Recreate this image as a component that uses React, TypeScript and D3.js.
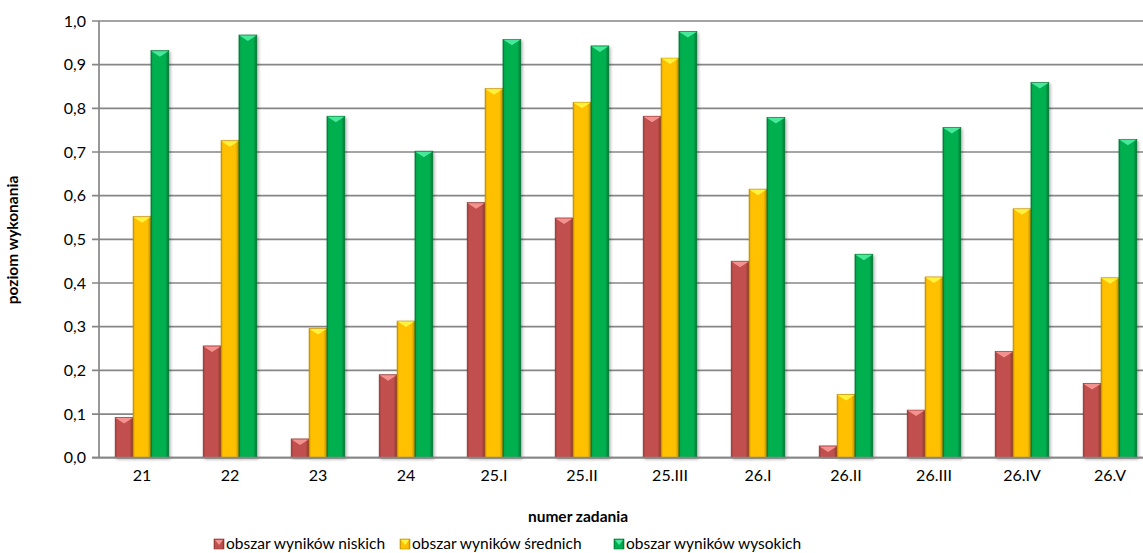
import React from "react";
import * as d3 from "d3";

const categories = ["21", "22", "23", "24", "25.I", "25.II", "25.III", "26.I", "26.II", "26.III", "26.IV", "26.V"];
const seriesNames = ["obszar wyników niskich", "obszar wyników średnich", "obszar wyników wysokich"];
const lowValues = [0.092, 0.256, 0.043, 0.19, 0.584, 0.549, 0.782, 0.45, 0.027, 0.109, 0.243, 0.17];
const midValues = [0.552, 0.726, 0.296, 0.313, 0.845, 0.814, 0.915, 0.615, 0.145, 0.414, 0.57, 0.412];
const highValues = [0.932, 0.968, 0.782, 0.702, 0.958, 0.943, 0.976, 0.779, 0.466, 0.756, 0.859, 0.729];
const yTicks = [0, 0.1, 0.2, 0.3, 0.4, 0.5, 0.6, 0.7, 0.8, 0.9, 1.0];

const palette = [
  { main: "#C0504D", dark: "#8C3330", light: "#F4928F" },
  { main: "#FFC000", dark: "#C08E00", light: "#FFF23C" },
  { main: "#00B050", dark: "#007632", light: "#48E89A" },
];

const W = 1143;
const H = 553;
const left = 98;
const top = 21;
const bottom = 457.7;
const FONT = "Lato, 'Open Sans', sans-serif";

export default function App() {
  const allSeries = [lowValues, midValues, highValues];
  const x0 = d3.scaleBand<string>().domain(categories).range([left, left + 1056]).paddingInner(0.39).paddingOuter(0.195);
  const x1 = d3.scaleBand<number>().domain([0, 1, 2]).range([0, x0.bandwidth()]);
  const y = d3.scaleLinear().domain([0, 1]).range([bottom, top]);
  const fmt = (v: number) => v.toFixed(1).replace(".", ",");
  const bw = x1.bandwidth();

  return (
    <svg width={W} height={H} style={{ position: "absolute", left: 0, top: 0, background: "#fff" }}>
      <defs>
        {palette.map((p, i) => (
          <linearGradient key={i} id={`g${i}`} x1="0" x2="1" y1="0" y2="0">
            <stop offset="0" stopColor={p.dark} />
            <stop offset="0.1" stopColor={p.main} />
            <stop offset="0.8" stopColor={p.main} />
            <stop offset="1" stopColor={p.dark} />
          </linearGradient>
        ))}
        <filter id="sh" x="-30%" y="-10%" width="160%" height="120%">
          <feDropShadow dx="1.5" dy="1.5" stdDeviation="1.8" floodColor="#000" floodOpacity="0.3" />
        </filter>
      </defs>
      {yTicks.map((t) => (
        <g key={t}>
          <line x1={92} x2={W} y1={y(t)} y2={y(t)} stroke="#868686" strokeWidth={1.7} />
          <text x={86} y={y(t)} dy="0.36em" textAnchor="end" fontFamily={FONT} fontSize={16} fill="#000">
            {fmt(t)}
          </text>
        </g>
      ))}
      <line x1={99} x2={99} y1={top} y2={bottom} stroke="#868686" strokeWidth={1.7} />
      {categories.map((c, ci) => (
        <g key={c} transform={`translate(${x0(c)},0)`}>
          {allSeries.map((vals, si) => {
            const v = vals[ci];
            const bx = x1(si)!;
            const by = y(v);
            const h = y(0) - by;
            const cap = Math.min(6, h);
            const p = palette[si];
            return (
              <g key={si}>
                <rect x={bx} y={by} width={bw} height={h} fill={`url(#g${si})`} filter="url(#sh)" stroke={p.dark} strokeWidth={0.6} />
                <path d={`M${bx + 0.5},${by + 0.5} L${bx + bw - 0.5},${by + 0.5} L${bx + bw / 2},${by + cap} Z`} fill={p.light} />
              </g>
            );
          })}
        </g>
      ))}
      <line x1={92} x2={W} y1={bottom} y2={bottom} stroke="#868686" strokeWidth={1.7} />
      {categories.map((c) => (
        <text key={c} x={x0(c)! + x0.bandwidth() / 2} y={481} textAnchor="middle" fontFamily={FONT} fontSize={16} fill="#000">
          {c}
        </text>
      ))}
      <text x={578} y={522} textAnchor="middle" fontFamily={FONT} fontSize={15.5} fontWeight="bold" fill="#000">
        numer zadania
      </text>
      <text transform={`translate(18,240) rotate(-90)`} textAnchor="middle" fontFamily={FONT} fontSize={15.5} fontWeight="bold" fill="#000">
        poziom wykonania
      </text>
      {seriesNames.map((s, i) => {
        const lx = [214, 400, 614][i];
        const p = palette[i];
        return (
          <g key={s}>
            <rect x={lx} y={539} width={10} height={10} fill={`url(#g${i})`} stroke={p.dark} strokeWidth={0.6} />
            <path d={`M${lx + 1},${540} L${lx + 9},${540} L${lx + 5},${545} Z`} fill={p.light} />
            <text x={lx + 12} y={549} fontFamily={FONT} fontSize={15.5} fill="#000">
              {s}
            </text>
          </g>
        );
      })}
    </svg>
  );
}
